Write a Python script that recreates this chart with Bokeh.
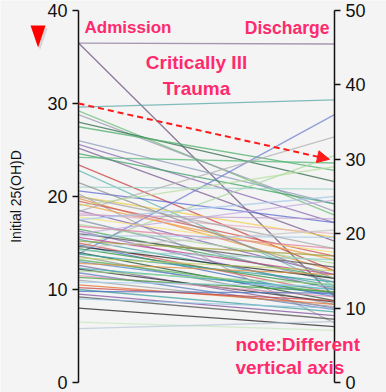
from bokeh.plotting import figure
from bokeh.models import Range1d, LinearAxis, FixedTicker, Label, Arrow, NormalHead, ColumnDataSource
from bokeh.embed import file_html
from bokeh.resources import INLINE

# Admission values (left axis, 0-40) and discharge values (right axis, 0-50)
admission = [36.5, 36.5, 29.6, 29.2, 28.8, 28.0, 27.5, 26.0, 25.6, 25.2,
             24.6, 24.2, 23.4, 22.8, 14.5, 21.0, 20.6, 20.3, 20.0, 19.8,
             19.5, 19.2, 13.8, 18.5, 18.2, 17.8, 17.5, 18.4, 17.0, 16.8,
             16.5, 16.3, 16.0, 15.8, 15.6, 15.4, 15.2, 15.0, 14.8, 14.6,
             14.4, 14.2, 14.0, 13.8, 13.6, 13.4, 13.2, 13.0, 12.8, 12.6,
             12.3, 12.2, 12.0, 11.8, 11.5, 11.3, 11.0, 10.8, 10.5, 10.2,
             10.0, 9.8, 9.5, 9.2, 9.0, 8.0, 6.5, 5.8, 18.0, 20.0,
             16.0, 14.5, 21.5, 19.0, 17.5]
discharge = [45.5, 11.5, 38.0, 22.5, 23.0, 27.0, 28.5, 24.0, 21.5, 19.0,
             24.0, 29.5, 15.0, 13.0, 30.5, 26.0, 21.5, 8.0, 19.5, 15.0,
             17.0, 16.5, 36.0, 14.5, 20.0, 17.5, 13.5, 33.0, 16.0, 18.0,
             14.0, 12.5, 15.5, 19.5, 14.5, 13.0, 17.0, 12.0, 11.5, 14.0,
             12.8, 16.5, 11.0, 13.5, 10.5, 15.0, 12.0, 11.8, 14.5, 10.0,
             12.5, 10.8, 13.2, 9.8, 11.5, 12.2, 10.2, 13.0, 10.5, 11.0,
             9.5, 12.0, 9.0, 8.5, 10.0, 7.5, 7.0, 8.2, 22.0, 18.0,
             24.5, 20.5, 14.0, 29.0, 25.0]
line_colors = ["#8a7a9a", "#6b4f7a", "#5aa8a8", "#6cbf7a", "#9a9ab0", "#2e6b4a", "#4caf6a", "#8a9ab8", "#8a6cb0", "#7a5a90",
               "#3aa060", "#58b878", "#c84040", "#60b8b0", "#a8d8a0", "#9ad0c8", "#5a6ad0", "#a0a0a0", "#f0d050", "#e89040",
               "#d05050", "#f0a040", "#7080d0", "#8060b0", "#e8b0c0", "#f5e070", "#8090a8", "#b0b0b0", "#a8d898", "#e080a0",
               "#40a050", "#9070c0", "#505050", "#a0c8e8", "#c04090", "#40a0a0", "#a0a040", "#d06060", "#4070c0", "#202020",
               "#309040", "#90d0c8", "#205030", "#30a0a0", "#909090", "#c0d060", "#50b050", "#5080d0", "#e09040", "#8060a0",
               "#40b0b0", "#303030", "#a0d890", "#6080c0", "#e090b0", "#40a040", "#a0a0a0", "#a0d0f0", "#e07030", "#d04040",
               "#40a0a0", "#5070c0", "#8050a0", "#505050", "#90c0e0", "#202020", "#c8e8c0", "#b8c8d8", "#c0a0d0", "#a8a8a8",
               "#c0a8e0", "#c8c8c8", "#909090", "#b8e0a0", "#a8c8e8"]

left_ticks = [0, 10, 20, 30, 40]
right_ticks = [0, 10, 20, 30, 40, 50]
arrow_from = 30   # left-axis value
arrow_to = 30     # right-axis value

left_max = 40
right_max = 50
ratio = left_max / right_max

pink = "#ff2a6d"
font = "Liberation Sans"
bg = "#f4f4f4"

# frame covers the whole canvas; the two axes sit at x=0 and x=1
y_lo, y_hi = -1.075, 41.075
p = figure(width=386, height=392, output_backend="svg", toolbar_location=None,
           x_range=Range1d(-0.3047, 1.2031), y_range=Range1d(y_lo, y_hi),
           min_border_left=0, min_border_right=0, min_border_top=0, min_border_bottom=0)
p.background_fill_color = bg
p.border_fill_color = bg
p.outline_line_color = None
p.xgrid.visible = False
p.ygrid.visible = False
p.xaxis.visible = False
p.yaxis.visible = False

src = ColumnDataSource(dict(
    xs=[[0, 1] for _ in admission],
    ys=[[a, d * ratio] for a, d in zip(admission, discharge)],
    c=line_colors))
p.multi_line("xs", "ys", source=src, line_color="c", line_width=1.3, line_alpha=0.75)

def style_axis(ax):
    ax.axis_line_color = "#111111"
    ax.axis_line_width = 1.5
    ax.major_tick_line_color = "#111111"
    ax.major_tick_line_width = 1.5
    ax.major_tick_out = 6
    ax.major_tick_in = 0
    ax.minor_tick_line_color = None
    ax.major_label_text_font = font
    ax.major_label_text_font_size = "18px"
    ax.major_label_text_color = "#111111"
    ax.major_label_standoff = 5

la = LinearAxis(ticker=FixedTicker(ticks=left_ticks), axis_label="Initial 25(OH)D",
                fixed_location=0, bounds=(0, left_max))
style_axis(la)
la.axis_label_text_font = font
la.axis_label_text_font_size = "14px"
la.axis_label_text_font_style = "normal"
la.axis_label_text_color = "#111111"
la.axis_label_standoff = 20
p.add_layout(la, "left")

p.extra_y_ranges = {"right": Range1d(y_lo / ratio, y_hi / ratio)}
ra = LinearAxis(y_range_name="right", ticker=FixedTicker(ticks=right_ticks),
                fixed_location=1, bounds=(0, right_max))
style_axis(ra)
p.add_layout(ra, "right")

p.add_layout(Arrow(x_start=0, y_start=arrow_from, x_end=0.98, y_end=arrow_to * ratio,
                   line_color="#ff1a1a", line_width=2, line_dash="6 4",
                   end=NormalHead(size=12, fill_color="#ff1a1a", line_color="#ff1a1a")))

p.add_layout(Label(x=0.0234, y=38.17, text="Admission", text_color=pink, text_font=font,
                   text_font_size="17px", text_font_style="bold", text_baseline="middle"))
p.add_layout(Label(x=0.98, y=38.17, text="Discharge", text_color=pink, text_font=font,
                   text_font_size="17.5px", text_font_style="bold", text_baseline="middle", text_align="right"))
p.add_layout(Label(x=0.461, y=33.0, text="Critically Ill\nTrauma", text_color=pink, text_font=font,
                   text_font_size="19px", text_font_style="bold", text_baseline="middle", text_align="center",
                   text_line_height=1.25))
p.add_layout(Label(x=0.613, y=2.85, text="note:Different\nvertical axis", text_color=pink, text_font=font,
                   text_font_size="19px", text_font_style="bold", text_baseline="middle",
                   text_line_height=1.1))

# decorative red pointer (narrow, tall downward triangle) with a soft shadow
tri_cx, tri_top, tri_bot, tri_half = -0.158, 38.39, 36.02, 0.0293
shadow_dx, shadow_dy = 0.008, -0.3
p.patch([tri_cx - tri_half + shadow_dx, tri_cx + tri_half + shadow_dx, tri_cx + shadow_dx],
        [tri_top + shadow_dy, tri_top + shadow_dy, tri_bot + shadow_dy],
        fill_color="#000000", fill_alpha=0.12, line_color=None)
p.patch([tri_cx - tri_half, tri_cx + tri_half, tri_cx],
        [tri_top, tri_top, tri_bot], fill_color="#ff0000", line_color=None)

open("out.html", "w").write(file_html(p, INLINE))
